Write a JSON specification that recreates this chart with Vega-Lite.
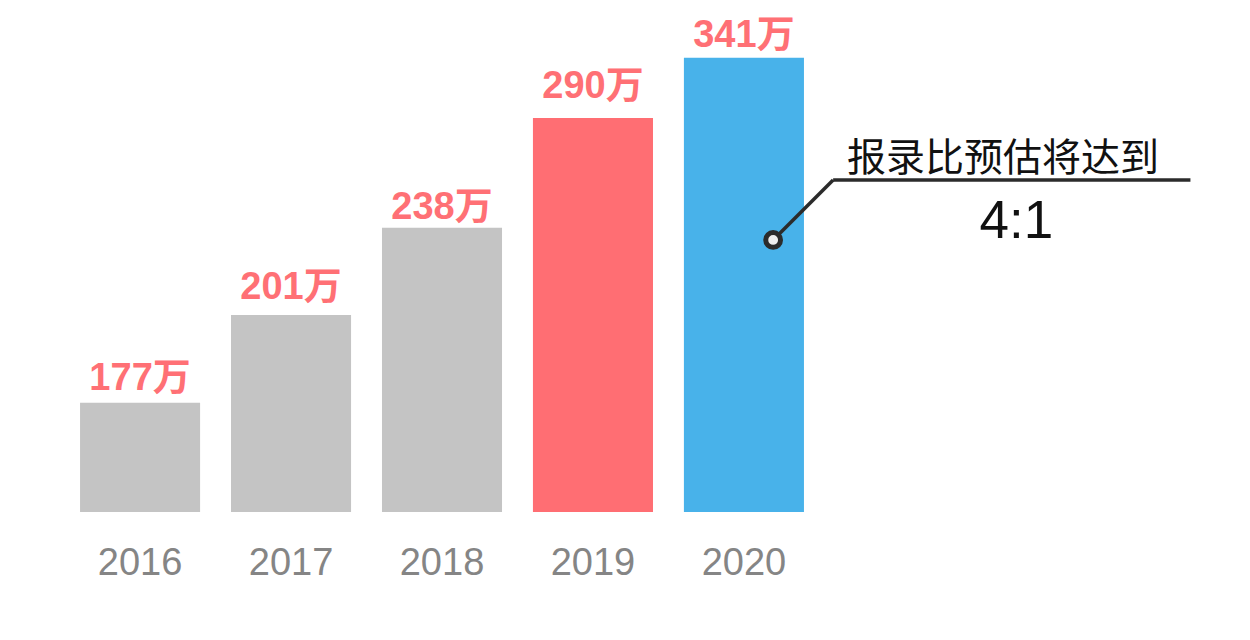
{
  "$schema": "https://vega.github.io/schema/vega-lite/v6.json",
  "width": 884,
  "height": 512,
  "padding": 0,
  "background": "white",
  "config": {"view": {"stroke": null}, "font": "Liberation Sans, Noto Sans CJK SC"},
  "layer": [
    {
      "data": {
        "values": [
          {"year": "2016", "value": 177, "label": "177万", "status": "历史"},
          {"year": "2017", "value": 201, "label": "201万", "status": "历史"},
          {"year": "2018", "value": 238, "label": "238万", "status": "历史"},
          {"year": "2019", "value": 290, "label": "290万", "status": "当年"},
          {"year": "2020", "value": 341, "label": "341万", "status": "预估"}
        ]
      },
      "encoding": {
        "x": {
          "field": "year",
          "type": "ordinal",
          "scale": {"paddingInner": 0.2048, "paddingOuter": 0.5302},
          "axis": {
            "title": null,
            "domain": false,
            "ticks": false,
            "tickSize": 0,
            "grid": false,
            "labelPadding": 62,
            "labelBaseline": "alphabetic",
            "labelFontSize": 38,
            "labelColor": "#858585",
            "labelAngle": 0,
            "labelFont": "Liberation Sans"
          }
        },
        "y": {
          "field": "value",
          "type": "quantitative",
          "scale": {"domain": [0, 177, 201, 238, 290, 341], "range": [512, 402.7, 315, 227.7, 118, 57.7], "nice": false, "zero": false},
          "axis": null
        },
        "text": {"field": "label"}
      },
      "layer": [
        {
          "mark": {"type": "bar"},
          "encoding": {
            "text": null,
            "color": {
              "field": "status",
              "type": "nominal",
              "scale": {"domain": ["历史", "当年", "预估"], "range": ["#c4c4c4", "#ff6e73", "#48b2ea"]},
              "legend": null
            }
          }
        },
        {
          "transform": [{"filter": "datum.year == '2016'"}],
          "mark": {"type": "text", "baseline": "alphabetic", "dy": -12.7, "fontSize": 38, "fontWeight": "bold", "color": "#ff7075", "font": "Liberation Sans, Noto Sans CJK SC"}
        },
        {
          "transform": [{"filter": "datum.year == '2017'"}],
          "mark": {"type": "text", "baseline": "alphabetic", "dy": -15.7, "fontSize": 38, "fontWeight": "bold", "color": "#ff7075", "font": "Liberation Sans, Noto Sans CJK SC"}
        },
        {
          "transform": [{"filter": "datum.year == '2018'"}],
          "mark": {"type": "text", "baseline": "alphabetic", "dy": -8.4, "fontSize": 38, "fontWeight": "bold", "color": "#ff7075", "font": "Liberation Sans, Noto Sans CJK SC"}
        },
        {
          "transform": [{"filter": "datum.year == '2019'"}],
          "mark": {"type": "text", "baseline": "alphabetic", "dy": -19.7, "fontSize": 38, "fontWeight": "bold", "color": "#ff7075", "font": "Liberation Sans, Noto Sans CJK SC"}
        },
        {
          "transform": [{"filter": "datum.year == '2020'"}],
          "mark": {"type": "text", "baseline": "alphabetic", "dy": -11, "fontSize": 38, "fontWeight": "bold", "color": "#ff7075", "font": "Liberation Sans, Noto Sans CJK SC"}
        }
      ]
    },
    {
      "data": {"values": [{"note": "报录比预估将达到", "ratio": "4:1"}]},
      "layer": [
        {
          "mark": {"type": "rule", "color": "#2b2b2b", "strokeWidth": 3.5, "xOffset": 29.2, "x2Offset": 89.2},
          "encoding": {
            "x": {"datum": "2020", "type": "ordinal"},
            "x2": {"datum": "2020"},
            "y": {"datum": 232.8, "type": "quantitative"},
            "y2": {"datum": 260.6}
          }
        },
        {
          "mark": {"type": "rule", "color": "#2b2b2b", "strokeWidth": 3.5, "xOffset": 89.2, "x2Offset": 446.5},
          "encoding": {
            "x": {"datum": "2020", "type": "ordinal"},
            "x2": {"datum": "2020"},
            "y": {"datum": 260.6, "type": "quantitative"}
          }
        },
        {
          "mark": {"type": "circle", "fill": "#eeeeee", "stroke": "#2b2b2b", "strokeWidth": 5, "size": 219, "opacity": 1, "xOffset": 29.2},
          "encoding": {
            "x": {"datum": "2020", "type": "ordinal"},
            "y": {"datum": 232.8, "type": "quantitative"}
          }
        },
        {
          "mark": {"type": "text", "align": "center", "baseline": "middle", "fontSize": 39, "color": "#111111", "font": "Noto Sans CJK SC", "xOffset": 259},
          "encoding": {
            "x": {"datum": "2020", "type": "ordinal"},
            "y": {"datum": 270.5, "type": "quantitative"},
            "text": {"field": "note"}
          }
        },
        {
          "mark": {"type": "text", "align": "center", "baseline": "middle", "fontSize": 53, "color": "#111111", "font": "Liberation Sans", "xOffset": 272.5},
          "encoding": {
            "x": {"datum": "2020", "type": "ordinal"},
            "y": {"datum": 240.5, "type": "quantitative"},
            "text": {"field": "ratio"}
          }
        }
      ]
    }
  ]
}
